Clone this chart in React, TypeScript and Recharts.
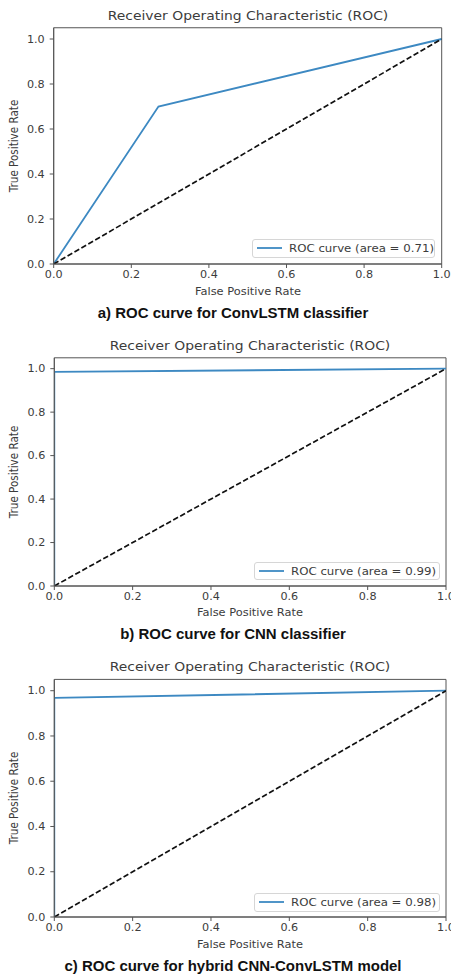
import React from "react";
import {
  LineChart,
  Line,
  XAxis,
  YAxis,
  Legend,
  ReferenceArea,
} from "recharts";

// ROC operating points (false positive rate / true positive rate) per model
const convLstmFpr = [0, 0.27, 1];
const convLstmTpr = [0, 0.7, 1];
const cnnFpr = [0, 0, 1];
const cnnTpr = [0, 0.985, 1];
const hybridFpr = [0, 0, 1];
const hybridTpr = [0, 0.968, 1];

const chanceFpr = [0, 1];
const chanceTpr = [0, 1];

const aucValues = [0.71, 0.99, 0.98];
const captions = [
  "a) ROC curve for ConvLSTM classifier",
  "b) ROC curve for CNN classifier",
  "c) ROC curve for hybrid CNN-ConvLSTM model",
];
const xTicks = [0, 0.2, 0.4, 0.6, 0.8, 1.0];
const yTicks = [0, 0.2, 0.4, 0.6, 0.8, 1.0];

const toPoints = (fpr: number[], tpr: number[]) =>
  fpr.map((f, i) => ({ fpr: f, tpr: tpr[i] }));

const MPL_FONT = "'DejaVu Sans', sans-serif";
const TEXT = "#3c3c3c";
const SPINE = "#555";
const ROC_BLUE = "#3d89c2";
// the figure text is a little wider than it is tall
const STRETCH = 1.12;

type Box = { l: number; r: number; t: number; b: number };

interface PanelProps {
  top: number;
  height: number;
  plot: Box;
  titleY: number;
  xLabelY: number;
  captionY: number;
  legend: { left: number; top: number; width: number; height: number };
  fpr: number[];
  tpr: number[];
  auc: number;
  caption: string;
}

function Txt({
  x,
  y,
  size,
  children,
  rotate,
  sx = STRETCH,
  bold,
  family,
  color,
}: {
  x: number;
  y: number;
  size: number;
  children: React.ReactNode;
  rotate?: number;
  sx?: number;
  bold?: boolean;
  family?: string;
  color?: string;
}) {
  const tf = rotate
    ? `translate(-50%, -50%) rotate(${rotate}deg) scaleY(${sx})`
    : `translate(-50%, -50%) scaleX(${sx})`;
  return (
    <div
      style={{
        position: "absolute",
        left: x,
        top: y,
        transform: tf,
        fontSize: size,
        lineHeight: 1,
        whiteSpace: "nowrap",
        fontFamily: family ?? MPL_FONT,
        fontWeight: bold ? 700 : 400,
        color: color ?? TEXT,
      }}
    >
      {children}
    </div>
  );
}

function StretchTick(props: any) {
  const { x, y, payload, textAnchor, orientation } = props;
  const isX = orientation === "bottom";
  return (
    <text
      x={x}
      y={y}
      dy={isX ? "0.71em" : "0.355em"}
      textAnchor={textAnchor}
      fill={TEXT}
      fontSize={10}
      fontFamily={MPL_FONT}
      transform={`translate(${x} 0) scale(${STRETCH} 1) translate(${-x} 0)`}
    >
      {Number(payload.value).toFixed(1)}
    </text>
  );
}

function RocPanel(p: PanelProps) {
  const width = 451;
  const plotCenterX = (p.plot.l + p.plot.r) / 2;
  const plotCenterY = (p.plot.t + p.plot.b) / 2;
  const xAxisHeight = 30;
  const legendLabel = `ROC curve (area = ${p.auc.toFixed(2)})`;

  return (
    <div
      style={{
        position: "absolute",
        left: 0,
        top: p.top,
        width,
        height: p.height,
        overflow: "hidden",
      }}
    >
      <LineChart
        width={width}
        height={p.height}
        margin={{
          top: p.plot.t,
          right: width - p.plot.r,
          left: 0,
          bottom: p.height - p.plot.b - xAxisHeight,
        }}
      >
        <XAxis
          type="number"
          dataKey="fpr"
          domain={[0, 1]}
          ticks={xTicks}
          height={xAxisHeight}
          tickSize={4}
          tickMargin={3}
          stroke={SPINE}
          tick={<StretchTick />}
          allowDataOverflow
          interval={0}
        />
        <YAxis
          type="number"
          dataKey="tpr"
          domain={[0, 1.05]}
          ticks={yTicks}
          width={p.plot.l}
          tickSize={4}
          tickMargin={5}
          stroke={SPINE}
          tick={<StretchTick />}
          allowDataOverflow
          interval={0}
        />
        {/* frame around the axes */}
        <ReferenceArea
          x1={0}
          x2={1}
          y1={0}
          y2={1.05}
          fill="none"
          stroke={SPINE}
          strokeWidth={1}
          ifOverflow="visible"
        />
        <Line
          data={toPoints(p.fpr, p.tpr)}
          dataKey="tpr"
          name={legendLabel}
          stroke={ROC_BLUE}
          strokeWidth={1.8}
          dot={false}
          activeDot={false}
          isAnimationActive={false}
        />
        <Line
          data={toPoints(chanceFpr, chanceTpr)}
          dataKey="tpr"
          legendType="none"
          stroke="#111"
          strokeWidth={1.7}
          strokeDasharray="5.5 2.5"
          dot={false}
          activeDot={false}
          isAnimationActive={false}
        />
        <Legend
          layout="horizontal"
          verticalAlign="middle"
          align="center"
          wrapperStyle={{
            left: p.legend.left,
            top: p.legend.top,
            width: p.legend.width,
            height: p.legend.height,
          }}
          content={() => (
            <div
              style={{
                position: "relative",
                boxSizing: "border-box",
                width: p.legend.width,
                height: p.legend.height,
                border: "1px solid #d6d6d6",
                borderRadius: 3,
                background: "#fff",
                fontFamily: MPL_FONT,
                color: TEXT,
              }}
            >
              <svg
                width={30}
                height={10}
                style={{ position: "absolute", left: 2, top: p.legend.height / 2 - 6 }}
              >
                <line x1={2} x2={27} y1={5} y2={5} stroke={ROC_BLUE} strokeWidth={1.8} />
              </svg>
              <span
                style={{
                  position: "absolute",
                  left: 36,
                  top: p.legend.height / 2 - 1,
                  transform: `translateY(-50%) scaleX(${STRETCH})`,
                  transformOrigin: "left center",
                  fontSize: 10.5,
                  lineHeight: 1,
                  whiteSpace: "nowrap",
                }}
              >
                {legendLabel}
              </span>
            </div>
          )}
        />
      </LineChart>

      <Txt x={plotCenterX} y={p.titleY} size={12.2} sx={1.14}>
        Receiver Operating Characteristic (ROC)
      </Txt>
      <Txt x={plotCenterX} y={p.xLabelY} size={10.2}>
        False Positive Rate
      </Txt>
      <Txt x={14} y={plotCenterY} size={10.4} rotate={-90}>
        True Positive Rate
      </Txt>
      <Txt
        x={233}
        y={p.captionY}
        size={14}
        sx={1.07}
        bold
        family="'Liberation Sans', Arial, sans-serif"
        color="#111"
      >
        {p.caption}
      </Txt>
    </div>
  );
}

export default function App() {
  return (
    <div
      style={{
        position: "absolute",
        left: 0,
        top: 0,
        width: 451,
        height: 975,
        background: "#fff",
        overflow: "hidden",
      }}
    >
      <RocPanel
        top={0}
        height={330}
        plot={{ l: 53.7, r: 441.7, t: 27.75, b: 264 }}
        titleY={16}
        xLabelY={292}
        captionY={313}
        legend={{ left: 251.7, top: 239, width: 183.3, height: 18.7 }}
        fpr={convLstmFpr}
        tpr={convLstmTpr}
        auc={aucValues[0]}
        caption={captions[0]}
      />
      <RocPanel
        top={330}
        height={320}
        plot={{ l: 54.3, r: 446, t: 27.8, b: 256 }}
        titleY={16}
        xLabelY={282.7}
        captionY={304}
        legend={{ left: 254.3, top: 232.3, width: 185.7, height: 17.7 }}
        fpr={cnnFpr}
        tpr={cnnTpr}
        auc={aucValues[1]}
        caption={captions[1]}
      />
      <RocPanel
        top={650}
        height={325}
        plot={{ l: 54.3, r: 446, t: 29.4, b: 267 }}
        titleY={17}
        xLabelY={295}
        captionY={315.7}
        legend={{ left: 254.3, top: 243.3, width: 185.7, height: 18.4 }}
        fpr={hybridFpr}
        tpr={hybridTpr}
        auc={aucValues[2]}
        caption={captions[2]}
      />
    </div>
  );
}
